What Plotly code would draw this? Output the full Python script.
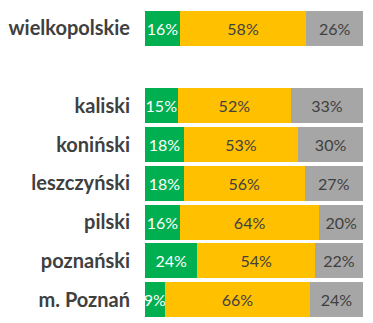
import plotly.graph_objects as go

categories = ["wielkopolskie", "kaliski", "koniński", "leszczyński", "pilski", "poznański", "m. Poznań"]
row_pos = [0, 2, 3, 4, 5, 6, 7]
green_vals = [16, 15, 18, 18, 16, 24, 9]
yellow_vals = [58, 52, 53, 56, 64, 54, 66]
gray_vals = [26, 33, 30, 27, 20, 22, 24]

series = [
    (green_vals, "#00B050", "white"),
    (yellow_vals, "#FFC000", "#404040"),
    (gray_vals, "#A6A6A6", "#404040"),
]

fig = go.Figure()
for vals, color, tcolor in series:
    fig.add_trace(go.Bar(
        y=row_pos, x=vals, orientation="h",
        marker=dict(color=color, line=dict(width=0)),
        text=[f"{v}%" for v in vals],
        textposition="inside", insidetextanchor="middle", textangle=0,
        textfont=dict(family="Lato", size=16, color=tcolor),
        hoverinfo="skip", showlegend=False,
    ))

fig.update_layout(
    barmode="stack", barnorm="percent", bargap=0.1,
    width=373, height=323,
    margin=dict(l=145, r=10, t=9, b=4),
    plot_bgcolor="white", paper_bgcolor="white",
    uniformtext=dict(mode="show", minsize=16),
    xaxis=dict(range=[0, 100], visible=False, showgrid=False, zeroline=False),
    yaxis=dict(range=[7.5, -0.5], tickvals=row_pos, ticktext=categories,
               ticks="", showgrid=False, zeroline=False, showline=False,
               ticklabelstandoff=14,
               tickfont=dict(family="Lato", size=20, color="#404040", weight="bold")),
)

fig.write_html("out.html")
